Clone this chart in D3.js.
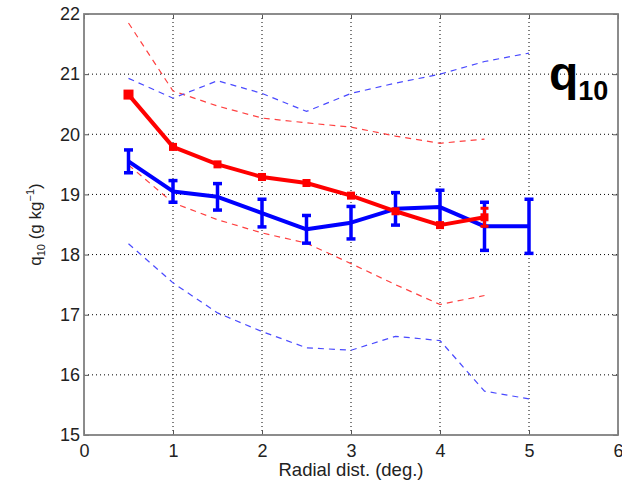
<!DOCTYPE html>
<html>
<head>
<meta charset="utf-8">
<script src="https://cdn.jsdelivr.net/npm/d3@7"></script>
<style>
  body { margin: 0; background: #fff; }
  svg text { font-family: "Liberation Sans", Arial, sans-serif; }
</style>
</head>
<body>
<svg id="chart" width="622" height="482"></svg>
<script>
// radial distance bins
var xsRed = [0.5, 1, 1.5, 2, 2.5, 3, 3.5, 4, 4.5];
var xsBlue = [0.5, 1, 1.5, 2, 2.5, 3, 3.5, 4, 4.5, 5];

// red series (mean and spread)
var redMean = [20.66, 19.79, 19.50, 19.29, 19.19, 18.98, 18.72, 18.49, 18.62];
var redErr = [0, 0, 0, 0, 0, 0, 0, 0, 0.15];
var redHigh = [21.85, 20.72, 20.47, 20.27, 20.19, 20.12, 19.97, 19.85, 19.92];
var redLow = [19.49, 18.86, 18.58, 18.36, 18.19, 17.85, 17.50, 17.17, 17.32];

// blue series (mean, error bar, spread)
var blueMean = [19.55, 19.05, 18.96, 18.69, 18.42, 18.53, 18.76, 18.79, 18.47, 18.47];
var blueErr = [0.19, 0.18, 0.22, 0.23, 0.23, 0.27, 0.27, 0.28, 0.40, 0.45];
var blueHigh = [20.93, 20.60, 20.89, 20.68, 20.38, 20.68, 20.85, 21.00, 21.21, 21.35];
var blueLow = [18.18, 17.53, 17.03, 16.72, 16.45, 16.41, 16.64, 16.57, 15.73, 15.60];

var xTicks = [0, 1, 2, 3, 4, 5, 6];
var yTicks = [15, 16, 17, 18, 19, 20, 21, 22];

var FONT = '"Liberation Sans", Arial, sans-serif';
var svg = d3.select('#chart');
var mLeft = 84, mRight = 618, mTop = 14, mBottom = 435;

var x = d3.scaleLinear().domain([0, 6]).range([mLeft, mRight]);
var y = d3.scaleLinear().domain([15, 22]).range([mBottom, mTop]);

// grid
var grid = svg.append('g');
grid.selectAll('.gx').data(xTicks.slice(1, -1)).enter().append('line')
  .attr('x1', d => x(d)).attr('x2', d => x(d))
  .attr('y1', mTop).attr('y2', mBottom)
  .attr('stroke', '#000').attr('stroke-width', 1).attr('stroke-dasharray', '1,3');
grid.selectAll('.gy').data(yTicks.slice(1, -1)).enter().append('line')
  .attr('x1', mLeft).attr('x2', mRight)
  .attr('y1', d => y(d)).attr('y2', d => y(d))
  .attr('stroke', '#000').attr('stroke-width', 1).attr('stroke-dasharray', '1,3');

// axes
svg.append('g').attr('transform', `translate(0,${mBottom})`)
  .call(d3.axisBottom(x).tickValues(xTicks).tickSize(-5).tickPadding(9).tickFormat(d3.format('d')))
  .call(g => g.select('.domain').remove());
svg.append('g').attr('transform', `translate(${mLeft},0)`)
  .call(d3.axisLeft(y).tickValues(yTicks).tickSize(-5).tickPadding(4).tickFormat(d3.format('d')))
  .call(g => g.select('.domain').remove());
svg.append('g').attr('transform', `translate(0,${mTop})`)
  .call(d3.axisTop(x).tickValues(xTicks).tickSize(-5).tickFormat(''))
  .call(g => g.select('.domain').remove());
svg.append('g').attr('transform', `translate(${mRight},0)`)
  .call(d3.axisRight(y).tickValues(yTicks).tickSize(-5).tickFormat(''))
  .call(g => g.select('.domain').remove());
svg.selectAll('.tick line').attr('stroke', '#555');
svg.selectAll('.tick text').attr('font-size', 18).attr('fill', '#222')
  .attr('font-family', FONT);

svg.append('rect').attr('x', mLeft).attr('y', mTop)
  .attr('width', mRight - mLeft).attr('height', mBottom - mTop)
  .attr('fill', 'none').attr('stroke', '#808080').attr('stroke-width', 1.8);

var line = d3.line().x(d => x(d[0])).y(d => y(d[1]));

// dashed spread lines
function dashed(xs, vals, col) {
  svg.append('path').datum(xs.map((v, i) => [v, vals[i]]))
    .attr('d', line).attr('fill', 'none')
    .attr('stroke', col).attr('stroke-width', 1.2).attr('stroke-dasharray', '6,5');
}
dashed(xsRed, redHigh, '#ff4040');
dashed(xsRed, redLow, '#ff4040');
dashed(xsBlue, blueHigh, '#4a4aff');
dashed(xsBlue, blueLow, '#4a4aff');

// error bars
function errorBars(xs, mean, err, col, w, cap) {
  var g = svg.append('g');
  xs.forEach((v, i) => {
    if (!err[i]) return;
    var px = x(v), y1 = y(mean[i] + err[i]), y2 = y(mean[i] - err[i]);
    g.append('line').attr('x1', px).attr('x2', px).attr('y1', y1).attr('y2', y2)
      .attr('stroke', col).attr('stroke-width', w);
    [y1, y2].forEach(py => {
      g.append('line').attr('x1', px - cap).attr('x2', px + cap).attr('y1', py).attr('y2', py)
        .attr('stroke', col).attr('stroke-width', w);
    });
  });
}

// blue main
errorBars(xsBlue, blueMean, blueErr, '#0000ff', 3.5, 4.5);
svg.append('path').datum(xsBlue.map((v, i) => [v, blueMean[i]]))
  .attr('d', line).attr('fill', 'none')
  .attr('stroke', '#0000ff').attr('stroke-width', 4).attr('stroke-linejoin', 'round');

// red main
errorBars(xsRed, redMean, redErr, '#ff0000', 3, 4);
svg.append('path').datum(xsRed.map((v, i) => [v, redMean[i]]))
  .attr('d', line).attr('fill', 'none')
  .attr('stroke', '#ff0000').attr('stroke-width', 4).attr('stroke-linejoin', 'round');
svg.selectAll('.rsq').data(xsRed.map((v, i) => [v, redMean[i]])).enter().append('rect')
  .attr('x', d => x(d[0]) - (d[0] === 0.5 ? 5 : 4))
  .attr('y', d => y(d[1]) - (d[0] === 0.5 ? 5 : 4))
  .attr('width', d => d[0] === 0.5 ? 10 : 8)
  .attr('height', d => d[0] === 0.5 ? 10 : 8)
  .attr('fill', '#ff0000');

// labels
svg.append('text').attr('x', (mLeft + mRight) / 2 - 0).attr('y', 476)
  .attr('text-anchor', 'middle').attr('font-size', 18.5).attr('fill', '#222')
  .attr('font-family', FONT)
  .text('Radial dist. (deg.)');

var yl = svg.append('text').attr('transform', `translate(41,${(mTop + mBottom) / 2}) rotate(-90)`)
  .attr('text-anchor', 'middle').attr('font-size', 17).attr('fill', '#222')
  .attr('font-family', FONT);
yl.append('tspan').text('q');
yl.append('tspan').attr('font-size', 11).attr('dy', 4).text('10');
yl.append('tspan').attr('dy', -4).text(' (g kg');
yl.append('tspan').attr('font-size', 11).attr('dy', -7).text('\u22121');
yl.append('tspan').attr('dy', 7).text(')');

var ql = svg.append('text').attr('x', 549).attr('y', 90)
  .attr('font-weight', 'bold').attr('fill', '#000').attr('font-family', FONT);
ql.append('tspan').attr('font-size', 48).text('q');
ql.append('tspan').attr('font-size', 27).attr('dy', 10).text('10');
</script>
</body>
</html>
